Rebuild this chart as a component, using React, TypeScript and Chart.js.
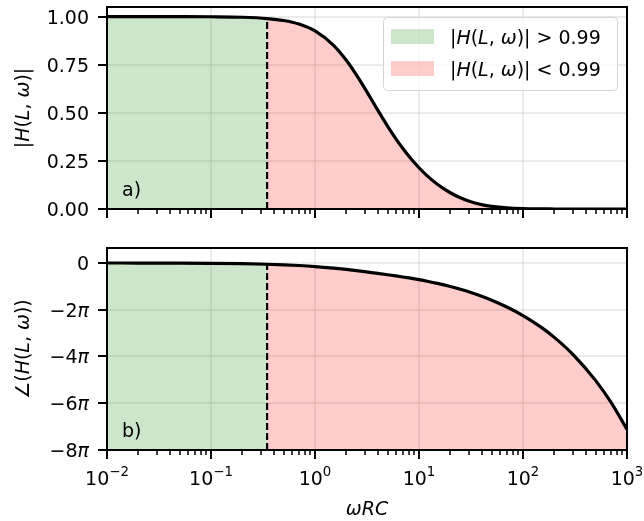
import { useEffect, useRef } from 'react';
import { Chart, registerables } from 'chart.js';

Chart.register(...registerables);

// ---- data ----
const omegaRC = [0.01, 0.02, 0.05, 0.1, 0.2, 0.3464, 0.5, 0.7, 1, 1.5, 2, 2.5, 3, 3.5, 4, 5, 6, 7, 8, 10, 12, 15, 20, 25, 30, 40, 50, 70, 100, 150, 200, 300, 500, 700, 1000];
const magnitude = [1.0, 1.0, 0.9998, 0.9992, 0.9967, 0.99, 0.9798, 0.9615, 0.9257, 0.8522, 0.7731, 0.6972, 0.6284, 0.5679, 0.5151, 0.4296, 0.3647, 0.3141, 0.2739, 0.2143, 0.1724, 0.1289, 0.0845, 0.0583, 0.0416, 0.0229, 0.0135, 0.0054, 0.0017, 0.0004, 0.0001, 0, 0, 0, 0];
const phaseOverPi = [-0.0016, -0.0032, -0.008, -0.0159, -0.0318, -0.0548, -0.0787, -0.1092, -0.1526, -0.219, -0.2771, -0.3272, -0.3711, -0.4096, -0.444, -0.5036, -0.5546, -0.5999, -0.6412, -0.7152, -0.7821, -0.8727, -1.0066, -1.1253, -1.2323, -1.4235, -1.5915, -1.8832, -2.2508, -2.7566, -3.1831, -3.8985, -5.0329, -5.955, -7.1176];
const threshold = 0.3464;
const thresholdMagnitude = 0.99;
const thresholdPhase = -0.0548;

const xMajorTicks = [0.01, 0.1, 1, 10, 100, 1000];
const xTickExponents = ['−2', '−1', '0', '1', '2', '3'];
const magTicks = [0, 0.25, 0.5, 0.75, 1.0];
const magTickLabels = ['0.00', '0.25', '0.50', '0.75', '1.00'];
const phaseTicks = [0, -2, -4, -6, -8];
const phaseTickLabels = ['0', '−2', '−4', '−6', '−8'];
const legendLabels = ['> 0.99', '< 0.99'];

const FAMILY = '"DejaVu Sans", sans-serif';
const FS = 19;
const GREEN = 'rgba(0,128,0,0.2)';
const RED = 'rgba(255,0,0,0.2)';
const GRID = 'rgba(176,176,176,0.26)';

type Seg = { t: string; i?: boolean; s?: boolean };

function segFont(size: number, g: Seg) {
  const sz = g.s ? size * 0.7 : size;
  return `${g.i ? 'italic ' : ''}${sz}px ${FAMILY}`;
}
function richWidth(ctx: CanvasRenderingContext2D, segs: Seg[], size: number) {
  let w = 0;
  for (const g of segs) {
    ctx.font = segFont(size, g);
    w += ctx.measureText(g.t).width;
  }
  return w;
}
function drawRich(ctx: CanvasRenderingContext2D, segs: Seg[], x: number, baseline: number, size: number, align: 'left' | 'center' | 'right') {
  const w = richWidth(ctx, segs, size);
  let cx = align === 'center' ? x - w / 2 : align === 'right' ? x - w : x;
  ctx.textAlign = 'left';
  ctx.textBaseline = 'alphabetic';
  ctx.fillStyle = '#000';
  for (const g of segs) {
    ctx.font = segFont(size, g);
    ctx.fillText(g.t, cx, g.s ? baseline - size * 0.5 : baseline);
    cx += ctx.measureText(g.t).width;
  }
}

const hSegs: Seg[] = [{ t: 'H', i: true }, { t: '(' }, { t: 'L', i: true }, { t: ', ' }, { t: 'ω', i: true }, { t: ')' }];

function makeDecor(kind: 'mag' | 'phase') {
  return {
    id: 'decor_' + kind,
    afterDraw(chart: any) {
      const { ctx, chartArea: a, scales } = chart;
      const xs = scales.x;
      const ys = scales.y;
      ctx.save();
      ctx.strokeStyle = '#000';
      // x tick marks
      for (let k = -2; k <= 3; k++) {
        for (let m = 1; m <= 9; m++) {
          const v = m * Math.pow(10, k);
          if (v > 1000.0001) break;
          const px = Math.round(xs.getPixelForValue(v));
          const major = m === 1;
          ctx.lineWidth = major ? 2 : 1.5;
          ctx.beginPath();
          ctx.moveTo(px, a.bottom);
          ctx.lineTo(px, a.bottom + (major ? 9 : 5));
          ctx.stroke();
        }
      }
      // y tick marks + labels
      const ticks = kind === 'mag' ? magTicks : phaseTicks;
      ticks.forEach((v, i) => {
        const py = Math.round(ys.getPixelForValue(v));
        ctx.lineWidth = 2;
        ctx.beginPath();
        ctx.moveTo(a.left - 9, py);
        ctx.lineTo(a.left, py);
        ctx.stroke();
        const segs: Seg[] = kind === 'mag'
          ? [{ t: magTickLabels[i] }]
          : (phaseTicks[i] === 0 ? [{ t: phaseTickLabels[i] }] : [{ t: phaseTickLabels[i] }, { t: 'π', i: true }]);
        drawRich(ctx, segs, a.left - 18, py + 7, FS, 'right');
      });
      // frame
      ctx.lineWidth = 2;
      ctx.strokeRect(a.left, a.top, a.right - a.left, a.bottom - a.top);

      // y axis title
      ctx.save();
      ctx.translate(22, (a.top + a.bottom) / 2);
      ctx.rotate(-Math.PI / 2);
      const ySegs: Seg[] = kind === 'mag'
        ? [{ t: '|' }, ...hSegs, { t: '|' }]
        : [{ t: '∠(' }, ...hSegs, { t: ')' }];
      drawRich(ctx, ySegs, 0, 7, FS, 'center');
      ctx.restore();

      // panel letter
      drawRich(ctx, [{ t: kind === 'mag' ? 'a)' : 'b)' }], a.left + 15, a.bottom - 13, FS, 'left');

      if (kind === 'phase') {
        // x tick labels
        xMajorTicks.forEach((v, i) => {
          const px = xs.getPixelForValue(v);
          drawRich(ctx, [{ t: '10' }, { t: xTickExponents[i], s: true }], px, a.bottom + 35, FS, 'center');
        });
        // x title
        drawRich(ctx, [{ t: 'ωRC', i: true }], (a.left + a.right) / 2, a.bottom + 65, FS, 'center');
      } else {
        // legend
        const lx = 383.5, ly = 17.5, lw = 234, lh = 73;
        ctx.beginPath();
        ctx.roundRect(lx, ly, lw, lh, 4);
        ctx.fillStyle = 'rgba(255,255,255,0.8)';
        ctx.fill();
        ctx.lineWidth = 1;
        ctx.strokeStyle = 'rgb(214,214,214)';
        ctx.stroke();
        const colors = [GREEN, RED];
        legendLabels.forEach((lab, i) => {
          const cy = 37 + i * 32;
          ctx.fillStyle = colors[i];
          ctx.fillRect(391, cy - 8, 43, 15);
          drawRich(ctx, [{ t: '|' }, ...hSegs, { t: '| ' + lab }], 450, cy + 7, FS, 'left');
        });
      }
      ctx.restore();
    },
  };
}

function buildConfig(kind: 'mag' | 'phase') {
  const ys = kind === 'mag' ? magnitude : phaseOverPi;
  const yMin = kind === 'mag' ? 0 : -8;
  const yMax = kind === 'mag' ? 1.05 : 0.64;
  const thrY = kind === 'mag' ? thresholdMagnitude : thresholdPhase;
  const pts = omegaRC.map((x, i) => ({ x, y: ys[i] }));
  const greenPts = pts.filter((p) => p.x <= threshold + 1e-9);
  const redPts = pts.filter((p) => p.x >= threshold - 1e-9);
  const yTicks = kind === 'mag' ? magTicks : phaseTicks;
  return {
    type: 'line' as const,
    data: {
      datasets: [
        { data: pts, borderColor: '#000', borderWidth: 3.2, pointRadius: 0, cubicInterpolationMode: 'monotone', fill: false },
        { data: [{ x: threshold, y: yMin }, { x: threshold, y: thrY }], borderColor: '#000', borderWidth: 2.2, borderDash: [7, 3], pointRadius: 0, fill: false },
        { data: greenPts, borderWidth: 0, borderColor: 'rgba(0,0,0,0)', backgroundColor: GREEN, pointRadius: 0, cubicInterpolationMode: 'monotone', fill: 'start' },
        { data: redPts, borderWidth: 0, borderColor: 'rgba(0,0,0,0)', backgroundColor: RED, pointRadius: 0, cubicInterpolationMode: 'monotone', fill: 'start' },
      ],
    },
    options: {
      animation: false,
      responsive: false,
      maintainAspectRatio: false,
      events: [],
      layout: { padding: { top: kind === 'mag' ? 7 : 20, right: 17, left: 0, bottom: 0 } },
      plugins: { legend: { display: false }, tooltip: { enabled: false } },
      scales: {
        x: {
          type: 'logarithmic',
          min: 0.01,
          max: 1000,
          ticks: { display: false },
          grid: { color: GRID, lineWidth: 2, drawTicks: false },
          border: { display: false },
          afterBuildTicks: (s: any) => { s.ticks = xMajorTicks.map((v) => ({ value: v, major: true })); },
          afterFit: (s: any) => { s.height = kind === 'mag' ? 19 : 71; },
        },
        y: {
          type: 'linear',
          min: yMin,
          max: yMax,
          ticks: { display: false },
          grid: { color: GRID, lineWidth: 2, drawTicks: false },
          border: { display: false },
          afterBuildTicks: (s: any) => { s.ticks = yTicks.map((v) => ({ value: v })); },
          afterFit: (s: any) => { s.width = 107; },
        },
      },
    },
    plugins: [makeDecor(kind)],
  };
}

export default function App() {
  const topRef = useRef<HTMLCanvasElement>(null);
  const botRef = useRef<HTMLCanvasElement>(null);
  useEffect(() => {
    const c1 = new Chart(topRef.current as HTMLCanvasElement, buildConfig('mag') as any);
    const c2 = new Chart(botRef.current as HTMLCanvasElement, buildConfig('phase') as any);
    return () => { c1.destroy(); c2.destroy(); };
  }, []);
  return (
    <div style={{ position: 'fixed', left: 0, top: 0, width: 644, height: 521, background: '#fff' }}>
      <canvas ref={topRef} width={644} height={228} style={{ position: 'absolute', left: 0, top: 0, width: 644, height: 228, display: 'block' }} />
      <canvas ref={botRef} width={644} height={293} style={{ position: 'absolute', left: 0, top: 228, width: 644, height: 293, display: 'block' }} />
    </div>
  );
}
